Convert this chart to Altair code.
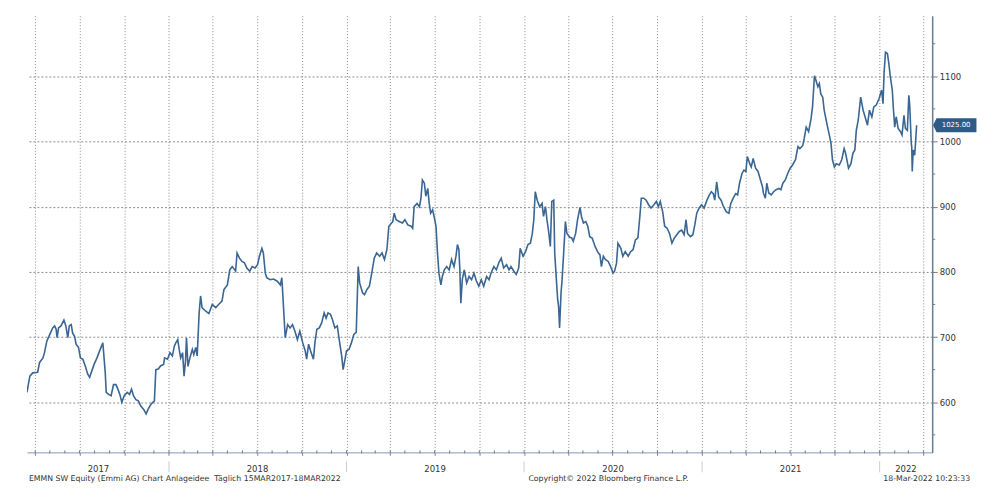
import altair as alt
import pandas as pd

# ---------------- data ----------------
d2017 = ["03-15","03-21","03-27","04-06","04-10","04-17","04-20","04-25","05-01","05-07","05-11","05-14","05-16","05-19","05-24","05-30",
         "06-03","06-07","06-10","06-14","06-17","06-21","06-24","06-29","07-03","07-08","07-13","07-18","07-22","07-25","07-31",
         "08-06","08-11","08-18","08-20","08-23","08-25","08-30","09-04","09-09","09-14","09-18","09-22","09-26","10-01","10-07",
         "10-12","10-16","10-20","10-25","10-30","11-04","11-10","11-15","11-19","11-25","12-02","12-05","12-10","12-15","12-21",
         "12-23","12-29"]
p2017 = [615,640,645,646,661,668,676,694,704,714,717,712,699,714,717,726,
         717,699,717,719,706,701,689,684,668,666,655,643,638,645,658,
         668,678,691,673,645,615,612,610,627,627,620,612,600,610,615,
         612,620,610,604,602,594,589,582,589,597,602,650,651,656,658,
         668,666]

d2018 = ["01-03","01-08","01-12","01-15","01-19","01-22","01-25","01-29","02-01","02-04","02-06","02-09","02-13","02-18","02-21",
         "02-25","02-28","03-04","03-07","03-10","03-17","03-24","03-31","04-07","04-13","04-20","04-24","05-01","05-06","05-11",
         "05-18","05-21","05-26","05-31","06-05","06-10","06-16","06-21","06-27","07-02","07-06","07-11","07-14","07-18","07-21",
         "07-28","08-04","08-11","08-18","08-21","08-24","08-28","09-02","09-07","09-12","09-17","09-22","09-27","10-03","10-08",
         "10-11","10-15","10-19","10-25","10-28","11-01","11-06","11-11","11-16","11-20","11-24","11-29","12-03","12-08","12-13",
         "12-17","12-22","12-25","12-29"]
p2018 = [676,671,686,691,696,681,668,676,640,663,699,655,668,681,673,
         684,671,737,763,745,740,736,750,745,750,755,773,780,803,808,
         801,829,821,816,814,806,801,808,806,811,824,836,829,798,791,
         788,789,786,780,791,752,699,719,714,719,709,696,709,691,679,
         666,689,679,666,691,712,714,722,737,729,737,735,727,714,717,
         696,671,650,666]

d2019 = ["01-01","01-06","01-11","01-16","01-21","01-25","01-28","02-03","02-07","02-12","02-17","02-23","02-27","03-04","03-10",
         "03-15","03-20","03-25","03-29","04-06","04-09","04-13","04-20","04-26","05-01","05-07","05-14","05-17","05-20","05-26",
         "05-31","06-03","06-06","06-10","06-13","06-17","06-20","06-23","06-27","06-30","07-04","07-07","07-10","07-14","07-17",
         "07-21","07-26","07-31","08-05","08-10","08-14","08-17","08-20","08-22","08-24","08-27","08-31","09-05","09-10","09-15",
         "09-20","09-25","09-30","10-05","10-10","10-16","10-21","10-25","10-31","11-05","11-10","11-15","11-20","11-26","12-01",
         "12-05","12-11","12-16","12-21","12-24","12-30"]
p2019 = [679,681,691,704,707,808,783,768,765,773,778,803,821,829,824,
         829,819,834,870,877,890,880,877,875,880,872,870,867,900,905,
         900,913,941,936,916,928,905,890,895,885,870,829,798,780,793,
         803,808,803,819,808,824,842,834,803,752,788,803,783,793,788,
         798,786,778,788,778,793,788,798,808,803,814,821,806,811,803,
         808,801,796,806,836,824]

d2020 = ["01-04","01-09","01-14","01-18","01-21","01-24","01-28","02-02","02-07","02-10","02-14","02-17","02-20","02-24","02-27",
         "03-02","03-04","03-07","03-10","03-12","03-14","03-17","03-19","03-22","03-26","03-29","04-04","04-08","04-11","04-16",
         "04-20","04-25","04-28","05-02","05-07","05-11","05-15","05-20","05-26","05-31","06-05","06-08","06-12","06-16","06-22",
         "06-27","07-02","07-05","07-09","07-12","07-18","07-22","07-27","08-02","08-07","08-12","08-17","08-22","08-26","08-29",
         "09-03","09-08","09-13","09-18","09-24","09-29","10-03","10-07","10-12","10-16","10-21","10-26","10-31","11-05","11-10",
         "11-15","11-20","11-25","11-29","12-02","12-08","12-13","12-17","12-21","12-26","12-31"]
p2020 = [831,842,844,859,880,923,910,900,905,885,900,880,865,839,908,
         910,829,793,758,747,714,768,786,824,877,859,853,852,847,859,
         880,899,885,875,877,870,854,852,839,831,826,808,824,819,816,
         808,798,801,813,844,836,824,831,824,831,834,849,852,885,913,
         913,910,903,898,903,908,900,908,892,870,867,859,844,852,857,
         862,864,857,880,859,854,857,872,890,898,903]

d2021 = ["01-05","01-11","01-16","01-20","01-24","01-27","01-31","02-04","02-09","02-14","02-20","02-25","03-01","03-06","03-11",
         "03-15","03-19","03-24","03-28","04-01","04-04","04-09","04-12","04-16","04-21","04-26","05-01","05-05","05-07","05-11",
         "05-14","05-18","05-23","05-28","06-02","06-08","06-12","06-16","06-21","06-26","07-01","07-06","07-12","07-17","07-21",
         "07-27","07-30","08-03","08-08","08-13","08-16","08-20","08-23","08-27","08-30","09-02","09-06","09-09","09-13","09-16",
         "09-19","09-23","09-26","09-30","10-04","10-10","10-15","10-20","10-23","10-29","11-03","11-07","11-11","11-14","11-18",
         "11-23","11-28","12-02","12-07","12-11","12-16","12-20","12-25","12-31"]
p2021 = [898,910,918,923,920,910,938,915,910,900,892,890,905,913,920,
         918,936,951,956,954,977,966,961,974,959,954,941,931,921,913,
         936,921,918,923,926,928,926,936,941,951,959,964,972,992,989,
         994,1005,1022,1015,1035,1053,1101,1094,1084,1089,1073,1068,1048,1033,1022,
         1012,997,972,961,966,964,972,989,982,959,966,982,987,1017,1033,
         1068,1048,1038,1025,1048,1038,1053,1056,1066]

d2022 = ["01-05","01-08","01-10","01-13","01-17","01-20","01-23","01-27","01-29","02-01","02-04","02-08","02-13","02-16","02-20",
         "02-23","02-27","03-02","03-03","03-04","03-07","03-08","03-09","03-11","03-14","03-16","03-18"]
p2022 = [1079,1058,1104,1137,1135,1119,1099,1079,1053,1022,1038,1020,1015,1010,1040,
         1020,1017,1071,1063,1053,997,992,954,987,979,1000,1025]

last_value = 1025
last_label = "1025.00"

y_ticks = [600, 700, 800, 900, 1000, 1100]
y_minor = [550, 650, 750, 850, 950, 1050, 1150]

quarter_starts = ["2017-04-01","2017-07-01","2017-10-01","2018-01-01","2018-04-01","2018-07-01","2018-10-01",
                  "2019-01-01","2019-04-01","2019-07-01","2019-10-01","2020-01-01","2020-04-01","2020-07-01",
                  "2020-10-01","2021-01-01","2021-04-01","2021-07-01","2021-10-01","2022-01-01","2022-04-01"]
month_starts = [f"{y}-{m:02d}-01" for y in range(2017, 2023) for m in range(1, 13)
                if "2017-04-01" <= f"{y}-{m:02d}-01" <= "2022-04-01"]
year_starts = ["2018-01-01","2019-01-01","2020-01-01","2021-01-01","2022-01-01"]
year_names = ["2017","2018","2019","2020","2021","2022"]
year_centres = ["2017-08-09","2018-07-02","2019-07-02","2020-07-02","2021-07-02","2022-02-24"]

footer_left = "EMMN SW Equity (Emmi AG) Chart Anlageidee\u00a0\u00a0T\u00e4glich 15MAR2017-18MAR2022"
footer_mid = "Copyright\u00a9 2022 Bloomberg Finance L.P."
footer_right = "18-Mar-2022 10:23:33"

# ---------------- tables ----------------
dates, prices = [], []
for yr, dd, pp in [(2017, d2017, p2017), (2018, d2018, p2018), (2019, d2019, p2019),
                   (2020, d2020, p2020), (2021, d2021, p2021), (2022, d2022, p2022)]:
    dates += [f"{yr}-{d}" for d in dd]
    prices += pp
df = pd.DataFrame({"date": dates, "price": prices})

W, H = 908, 438
LINE = "#3a6693"
TXT = "#333333"
FONT = "DejaVu Sans"

xscale = alt.Scale(domain=[alt.DateTime(year=2017, month=3, date=15),
                           alt.DateTime(year=2022, month=4, date=19)])
yscale = alt.Scale(domain=[523, 1193], nice=False, zero=False)

q_vals = [alt.DateTime(year=int(s[:4]), month=int(s[5:7]), date=1) for s in quarter_starts]

line = alt.Chart(df).mark_line(color=LINE, strokeWidth=1.6, clip=True).encode(
    x=alt.X("date:T", scale=xscale,
            axis=alt.Axis(values=q_vals, labels=False, title=None, grid=True,
                          gridColor="#8c8c8c", gridDash=[1, 2], gridWidth=1,
                          tickSize=3, tickColor="#7a8aa0", domainColor="#8798ae", domainWidth=1)),
    y=alt.Y("price:Q", scale=yscale,
            axis=alt.Axis(orient="right", values=y_ticks, title=None, grid=True, format="d",
                          gridColor="#8c8c8c", gridDash=[2, 2], gridWidth=1,
                          tickSize=5, tickColor="#6b7b8f", domainColor="#6b7b8f", domainWidth=1.5,
                          labelFont=FONT, labelFontSize=8.5, labelColor=TXT, labelPadding=2)),
)

mticks = alt.Chart(pd.DataFrame({"date": month_starts})).mark_rule(color="#6b7b8f", strokeWidth=1).encode(
    x=alt.X("date:T", scale=xscale), y=alt.value(H - 2), y2=alt.value(H + 1))

minor = alt.Chart(pd.DataFrame({"v": y_minor})).mark_rule(color="#6b7b8f", strokeWidth=1).encode(
    y=alt.Y("v:Q", scale=yscale), x=alt.value(W), x2=alt.value(W + 3))

tag_df = pd.DataFrame({"v": [last_value], "t": [last_label]})
tag = alt.Chart(tag_df).mark_point(
    shape="M-0.25,0 L0,-0.5 L3.2,-0.5 L3.2,0.5 L0,0.5 Z", size=576,
    filled=True, fill="#2e5b88", stroke="#2e5b88", opacity=1).encode(
    y=alt.Y("v:Q", scale=yscale), x=alt.value(W + 5))
tag_text = alt.Chart(tag_df).mark_text(font=FONT, fontSize=7, color="white", align="center",
                                       baseline="middle").encode(
    y=alt.Y("v:Q", scale=yscale), x=alt.value(W + 24), text="t:N")

yl_df = pd.DataFrame({"date": year_centres, "label": year_names})
year_lbl = alt.Chart(yl_df).mark_text(font=FONT, fontSize=8.5, color=TXT, baseline="middle").encode(
    x=alt.X("date:T", scale=xscale), y=alt.value(H + 17), text="label:N")

sep = alt.Chart(pd.DataFrame({"date": year_starts})).mark_rule(color="#cccccc", strokeWidth=1).encode(
    x=alt.X("date:T", scale=xscale), y=alt.value(H + 9), y2=alt.value(H + 20))

f1 = alt.Chart(pd.DataFrame({"t": [footer_left]})).mark_text(
    font=FONT, fontSize=7.8, color=TXT, align="left", baseline="middle").encode(
    x=alt.value(2), y=alt.value(H + 27), text="t:N")
f2 = alt.Chart(pd.DataFrame({"t": [footer_mid]})).mark_text(
    font=FONT, fontSize=7.8, color=TXT, align="left", baseline="middle").encode(
    x=alt.value(503), y=alt.value(H + 27), text="t:N")
f3 = alt.Chart(pd.DataFrame({"t": [footer_right]})).mark_text(
    font=FONT, fontSize=7.8, color=TXT, align="right", baseline="middle").encode(
    x=alt.value(946), y=alt.value(H + 27), text="t:N")

chart = alt.layer(line, mticks, minor, sep, year_lbl, tag, tag_text, f1, f2, f3).properties(
    width=W, height=H,
    autosize=alt.AutoSizeParams(type="none"),
    padding={"left": 19, "top": 7, "right": 60, "bottom": 40},
    background="white",
).configure_view(stroke=None)

chart.save("out.html", embed_options={"renderer": "svg", "actions": False})
